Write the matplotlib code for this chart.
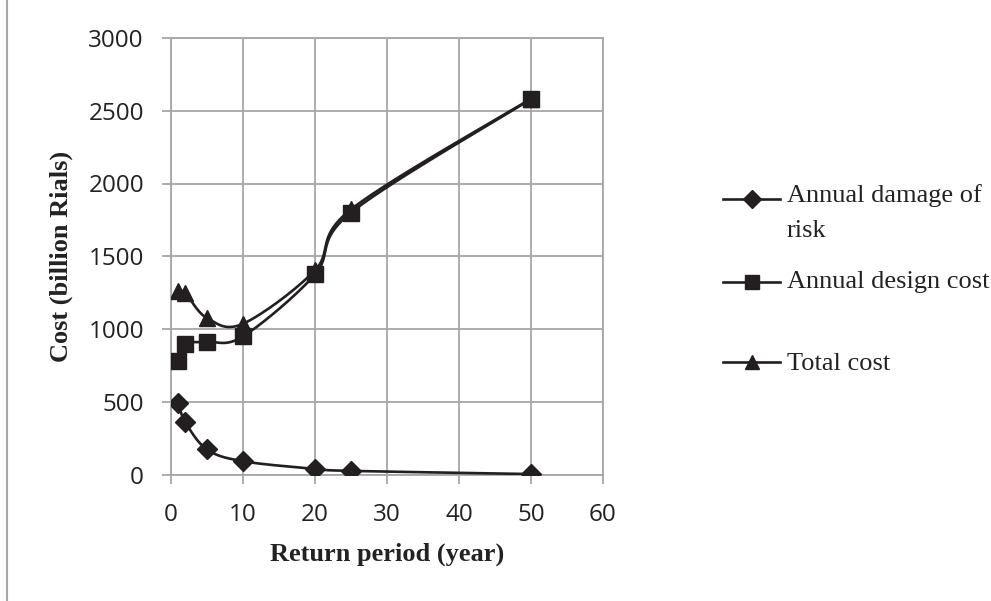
import numpy as np
import matplotlib.pyplot as plt
from matplotlib.lines import Line2D

return_period = [1, 2, 5, 10, 20, 25, 50]
damage = [492, 359, 172, 91, 39, 25, 3]
design = [778, 899, 911, 949, 1375, 1800, 2580]
total = [1262, 1245, 1075, 1036, 1404, 1822, 2583]

line_color = "#231f20"
grid_color = "#a6a6a6"
W, H = 991, 601


def smooth(xs, ys, n=30):
    # excel-style bezier smoothing (catmull-rom), done in scaled coordinates
    xs = np.asarray(xs, float) / 60.0
    ys = np.asarray(ys, float) / 3000.0
    px = np.concatenate([[xs[0]], xs, [xs[-1]]])
    py = np.concatenate([[ys[0]], ys, [ys[-1]]])
    outx, outy = [], []
    t = np.linspace(0, 1, n)
    for i in range(1, len(px) - 2):
        p0 = np.array([px[i], py[i]])
        p3 = np.array([px[i + 1], py[i + 1]])
        c1 = p0 + (np.array([px[i + 1], py[i + 1]]) - np.array([px[i - 1], py[i - 1]])) / 6
        c2 = p3 - (np.array([px[i + 2], py[i + 2]]) - np.array([px[i], py[i]])) / 6
        b = ((1 - t) ** 3)[:, None] * p0 + (3 * (1 - t) ** 2 * t)[:, None] * c1 \
            + (3 * (1 - t) * t ** 2)[:, None] * c2 + (t ** 3)[:, None] * p3
        outx.extend(b[:, 0])
        outy.extend(b[:, 1])
    return np.array(outx) * 60, np.array(outy) * 3000


fig = plt.figure(figsize=(W / 100, H / 100), dpi=100)
# outer chart border (left edge only is visible)
fig.add_artist(Line2D([7 / W, 7 / W], [0, 1], color="#a6a6a6", lw=1.5))

ax = fig.add_axes([171 / W, (H - 474.5) / H, (603 - 171) / W, (474.5 - 38) / H])

series = [(damage, "D", 10, "Annual damage of", "risk"),
          (design, "s", 11, "Annual design cost", None),
          (total, "^", 11, "Total cost", None)]
for ys, mk, ms, _, _ in series:
    sx, sy = smooth(return_period, ys)
    ax.plot(sx, sy, color=line_color, lw=1.9, zorder=3)
    ax.plot(return_period, ys, linestyle="none", marker=mk, markersize=ms,
            color=line_color, zorder=4)

ax.set_xlim(0, 60)
ax.set_ylim(0, 3000)
ax.set_xticks(range(0, 61, 10))
ax.set_yticks(range(0, 3001, 500))
ax.grid(True, color=grid_color, lw=1.3, zorder=0)
for s in ax.spines.values():
    s.set_color(grid_color)
    s.set_linewidth(1.3)
ax.tick_params(length=6.5, width=1.3, color=grid_color, labelsize=17.5)
ax.tick_params(axis="x", pad=14)
ax.tick_params(axis="y", pad=13)
for lab in ax.get_xticklabels() + ax.get_yticklabels():
    lab.set_fontfamily("Open Sans")
    lab.set_color("#222222")

ax.set_xlabel("Return period (year)", fontsize=19, fontweight="bold",
              family="Liberation Serif", labelpad=11, color="#222222")
ax.set_ylabel("Cost (billion Rials)", fontsize=19, fontweight="bold",
              family="Liberation Serif", labelpad=11, color="#222222")

# legend drawn by hand to match the excel layout (marker on first text line)
leg_rows = [(199.3, [201.7, 237.3]), (281.7, [288.3]), (361.7, [370.0])]
for (ys, mk, ms, l1, l2), (yc, bases) in zip(series, leg_rows):
    fig.add_artist(Line2D([723 / W, 780 / W], [1 - yc / H] * 2, color=line_color, lw=1.9))
    fig.add_artist(Line2D([751.5 / W], [1 - yc / H], marker=mk, markersize=ms - 1,
                          color=line_color, linestyle="none"))
    for txt, yb in zip([l1, l2], bases):
        if txt:
            fig.text(787 / W, 1 - yb / H, txt, fontsize=19, family="Liberation Serif",
                     va="baseline", ha="left", color="#222222")

fig.savefig("out.png", dpi=100)
